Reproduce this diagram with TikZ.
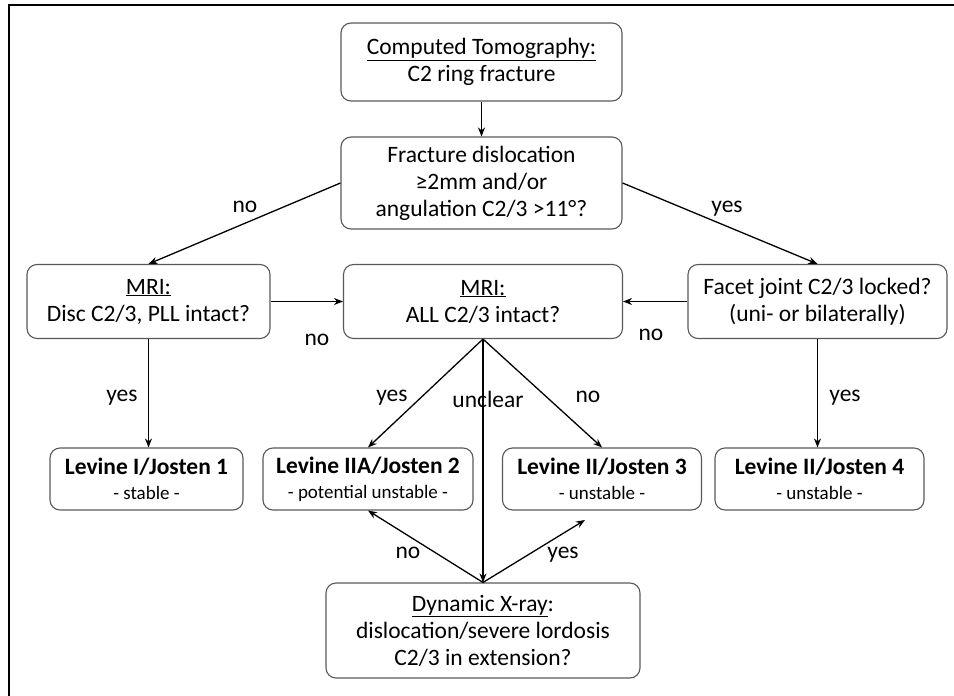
\documentclass[tikz,border=0pt]{standalone}
\usepackage{fontspec}
\setmainfont{Carlito}
\usetikzlibrary{positioning, arrows.meta}

\begin{document}
\begin{tikzpicture}[x=1pt, y=-1pt, >={Stealth[length=9pt, width=7pt]},
    box/.style={draw=black!65, line width=1.1pt, rounded corners=10pt, align=center,
        inner sep=0pt, font=\fontsize{23.5}{27}\selectfont},
    result/.style={box, minimum height=62pt, font=\fontsize{23.5}{25}\selectfont},
    lbl/.style={font=\fontsize{23.5}{26}\selectfont, anchor=base},
    flow/.style={->, line width=1.3pt}]
\useasboundingbox (0,0) rectangle (954,696);
\draw[line width=2pt] (954,5) -- (9,5) -- (9,696);

% decision boxes
\node[box, minimum width=281pt, minimum height=78pt] (ct) at (481.5,62) {\underline{Computed Tomography:}\\C2 ring fracture};
\node[box, minimum width=281pt, minimum height=92pt] (frac) at (481.5,183) {Fracture dislocation\\≥2mm and/or\\angulation C2/3 >11°?};
\node[box, minimum width=243pt, minimum height=74pt] (mri1) at (148.5,301.5) {\underline{MRI:}\\Disc C2/3, PLL intact?};
\node[box, minimum width=279pt, minimum height=74pt] (mri2) at (483,301.5) {\underline{MRI:}\\ALL C2/3 intact?};
\node[box, minimum width=259pt, minimum height=74pt] (facet) at (817.5,301.5) {Facet joint C2/3 locked?\\(uni- or bilaterally)};
\node[box, minimum width=314pt, minimum height=95pt] (dyn) at (483,630.5) {\underline{Dynamic X-ray}:\\dislocation/severe lordosis\\C2/3 in extension?};

% classification
\node[result, minimum width=193pt] (lev1) at (146.5,479) {\textbf{Levine I/Josten 1}\\{\fontsize{19}{20}\selectfont - stable -}};
\node[result, minimum width=210pt] (lev2) at (368,479) {\textbf{Levine IIA/Josten 2}\\{\fontsize{19}{20}\selectfont - potential unstable -}};
\node[result, minimum width=199pt] (lev3) at (602,479) {\textbf{Levine II/Josten 3}\\{\fontsize{19}{20}\selectfont - unstable -}};
\node[result, minimum width=209pt] (lev4) at (819.5,479) {\textbf{Levine II/Josten 4}\\{\fontsize{19}{20}\selectfont - unstable -}};
\coordinate (lev3yes) at (585,520);

\draw[flow] (ct) -- (frac);
\draw[flow] (frac.west) -- (mri1.north);
\draw[flow] (frac.east) -- (facet.north);
\draw[flow] (mri1) -- (mri2);
\draw[flow] (facet) -- (mri2);
\draw[flow] (mri1.south) -- (mri1.south |- lev1.north);
\draw[flow] (mri2.south) -- (lev2.north);
\draw[flow] (mri2.south) -- (lev3.north);
\draw[flow] (mri2.south) -- (dyn.north);
\draw[flow] (facet.south) -- (facet.south |- lev4.north);
\draw[flow] (dyn.north) -- (lev2.south);
\draw[flow] (dyn.north) -- (lev3yes);

\node[lbl] at (245,212) {no};
\node[lbl] at (727,212) {yes};
\node[lbl] at (317,345) {no};
\node[lbl] at (651,340) {no};
\node[lbl] at (122,401) {yes};
\node[lbl] at (392,401) {yes};
\node[lbl] at (588,402) {no};
\node[lbl] at (488,407) {unclear};
\node[lbl] at (845,401) {yes};
\node[lbl] at (408,558) {no};
\node[lbl] at (563,558) {yes};
\end{tikzpicture}
\end{document}
